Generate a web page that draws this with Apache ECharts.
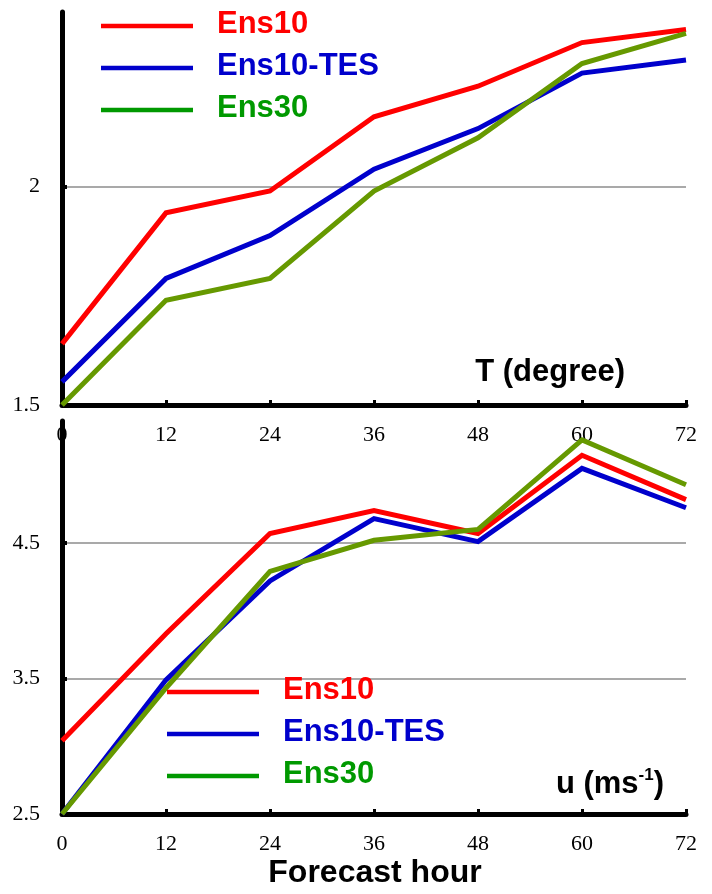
<!DOCTYPE html>
<html><head><meta charset="utf-8">
<script src="https://cdn.jsdelivr.net/npm/echarts@6/dist/echarts.min.js"></script>
<style>html,body{margin:0;padding:0;background:#fff}#c{width:712px;height:894px}</style>
</head><body><div id="c"></div>
<script>
// ---- data ----
const hours = [0, 12, 24, 36, 48, 60, 72];
const seriesNames = ['Ens10', 'Ens10-TES', 'Ens30'];
const tEns10 = [1.64, 1.94, 1.99, 2.16, 2.23, 2.33, 2.36];
const tEns10TES = [1.553, 1.79, 1.888, 2.04, 2.133, 2.26, 2.29];
const tEns30 = [1.5, 1.74, 1.79, 1.99, 2.112, 2.282, 2.351];
const uEns10 = [3.04, 3.83, 4.57, 4.74, 4.57, 5.147, 4.82];
const uEns10TES = [2.5, 3.49, 4.22, 4.68, 4.51, 5.05, 4.76];
const uEns30 = [2.5, 3.43, 4.29, 4.52, 4.6, 5.26, 4.93];
const tTicks = [1.5, 2];
const uTicks = [2.5, 3.5, 4.5];
const tRange = [1.5, 2.4];
const uRange = [2.5, 5.4];
const tTitle = 'T (degree)';
const xTitle = 'Forecast hour';

// ---- styling ----
const lineColors = ['#ff0000', '#0000cc', '#669900'];
const legendColors = ['#ff0000', '#0000cc', '#009900'];
const serif = '"Liberation Serif", "Times New Roman", serif';
const sans = '"Liberation Sans", Arial, sans-serif';

function xAxis(gi) {
  return {
    type: 'value', gridIndex: gi, min: hours[0], max: hours[hours.length - 1], interval: 12,
    axisLine: { show: true, onZero: false, lineStyle: { color: '#000', width: 5 } },
    axisTick: { show: true, inside: true, length: 5, lineStyle: { color: '#000', width: 3 } },
    axisLabel: { fontFamily: serif, fontSize: 22, color: '#000', margin: 19 },
    splitLine: { show: false }
  };
}
function yAxis(gi, range, ticks) {
  return {
    type: 'value', gridIndex: gi, min: range[0], max: range[1],
    axisLine: { show: true, onZero: false, lineStyle: { color: '#000', width: 5 } },
    axisTick: { show: true, inside: true, length: 5, customValues: ticks, lineStyle: { color: '#000', width: 4 } },
    axisLabel: { fontFamily: serif, fontSize: 22, color: '#000', margin: 22, customValues: ticks },
    splitLine: { show: true, lineStyle: { color: '#8c8c8c', width: 1.5 } }
  };
}
const panels = [[tEns10, tEns10TES, tEns30], [uEns10, uEns10TES, uEns30]];
const series = [];
panels.forEach((arrs, gi) => {
  arrs.forEach((arr, si) => {
    series.push({
      type: 'line', name: seriesNames[si], xAxisIndex: gi, yAxisIndex: gi,
      data: hours.map((h, i) => [h, arr[i]]),
      symbol: 'none', showSymbol: false,
      lineStyle: { color: lineColors[si], width: 5, join: 'miter' },
      itemStyle: { color: lineColors[si] },
      z: 3 + si
    });
  });
});

// legends as graphics (two copies, one per panel)
const legendPos = [{ x: 101, y: 26 }, { x: 167, y: 692 }];
const graphic = [];
legendPos.forEach(p => {
  seriesNames.forEach((n, i) => {
    const y = p.y + i * 42;
    graphic.push({ type: 'line', shape: { x1: p.x, y1: y, x2: p.x + 92, y2: y },
      style: { stroke: legendColors[i], lineWidth: 4.5 }, z: 10 });
    graphic.push({ type: 'text', x: p.x + 116, y: y - 2,
      style: { text: n, fill: legendColors[i], font: 'bold 31px ' + sans, textVerticalAlign: 'middle', textAlign: 'left' }, z: 10 });
  });
});
graphic.push({ type: 'text', x: 625, y: 372,
  style: { text: tTitle, fill: '#000', font: 'bold 31px ' + sans, textAlign: 'right', textVerticalAlign: 'middle' }, z: 10 });
graphic.push({ type: 'text', x: 664, y: 784,
  style: { text: '{a|u (ms}{s|-1}{a|)}', textAlign: 'right', textVerticalAlign: 'middle',
    rich: { a: { font: 'bold 31px ' + sans, fill: '#000', color: '#000', lineHeight: 34 },
            s: { font: 'bold 17px ' + sans, fill: '#000', color: '#000', verticalAlign: 'top', lineHeight: 34, padding: [0, 0, 14, 0] } } }, z: 10 });
graphic.push({ type: 'text', x: 375, y: 873,
  style: { text: xTitle, fill: '#000', font: 'bold 32px ' + sans, textAlign: 'center', textVerticalAlign: 'middle' }, z: 10 });

const chart = echarts.init(document.getElementById('c'), null, { renderer: 'canvas' });
chart.setOption({
  backgroundColor: '#fff',
  animation: false,
  grid: [
    { left: 62, right: 26, top: 12, height: 393 },
    { left: 62, right: 26, top: 421, height: 393 }
  ],
  xAxis: [xAxis(0), xAxis(1)],
  yAxis: [yAxis(0, tRange, tTicks), yAxis(1, uRange, uTicks)],
  series: series,
  graphic: graphic
});
</script></body></html>
